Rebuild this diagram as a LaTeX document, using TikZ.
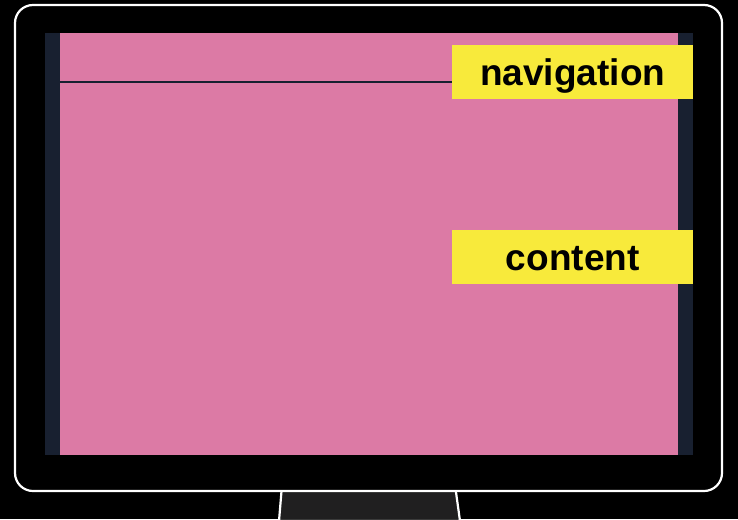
\documentclass[tikz,border=0pt]{standalone}
\usepackage{fontspec}
\setmainfont{Liberation Sans}
\definecolor{pinkscr}{HTML}{DC7AA5}
\definecolor{navyscr}{HTML}{182030}
\definecolor{labelyel}{HTML}{F8EA3B}
\definecolor{standgray}{HTML}{201F20}
\begin{document}
\begin{tikzpicture}[x=1pt,y=-1pt,
  labelbox/.style={fill=labelyel, minimum width=241pt, minimum height=54pt, inner sep=0pt,
    text height=26pt, text depth=0pt,
    font=\fontsize{37}{40}\selectfont\bfseries, text=black},
  frame/.style={draw=white, line width=2.2pt}]
\fill[black] (0,0) rectangle (738,519);
\useasboundingbox (0,0) rectangle (738,519);
% stand
\filldraw[fill=standgray, frame] (282,485) -- (455,485) -- (460,521) -- (279,521) -- cycle;
% monitor body
\filldraw[fill=black, frame, rounded corners=18pt] (15,5) rectangle (722,491);
% screen
\fill[navyscr] (45,33) rectangle (693,455);
\node[fill=pinkscr, inner sep=0pt, minimum width=618pt, minimum height=422pt, anchor=north west] (screen) at (60,33) {};
% labels
\node[labelbox, anchor=north west] (nav) at (452,45) {navigation};
\node[labelbox, anchor=north west] (content) at (452,230) {content};
\coordinate (navline) at (60,82);
\draw[navyscr, line width=2.5pt] (navline) -- (navline -| nav.west);
\end{tikzpicture}
\end{document}
